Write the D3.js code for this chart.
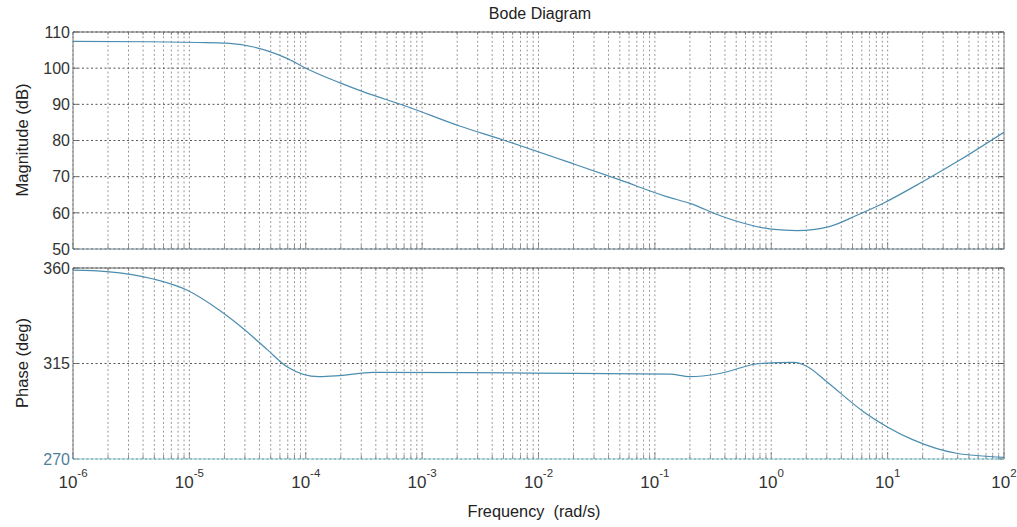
<!DOCTYPE html>
<html>
<head>
<meta charset="utf-8">
<script src="https://cdn.jsdelivr.net/npm/d3@7"></script>
<style>
  html, body { margin: 0; padding: 0; background: #fff; }
  svg { display: block; font-family: Arial, "Liberation Sans", sans-serif; }
</style>
</head>
<body>
<svg id="chart" width="1017" height="527"></svg>
<script>
// Frequency response samples (rad/s)
const magFreq = [1e-6, 4.6e-6, 1.2e-5, 2.1e-5, 4.7e-5, 6.9e-5, 1e-4, 1.95e-4, 3.1e-4, 7.4e-4, 2.1e-3, 4.9e-3, 0.021, 0.05, 0.126, 0.2, 0.38, 1, 1.66, 3.16, 5.5, 9.1, 20, 41.7, 100];
const magDb   = [107.4, 107.3, 107.1, 106.9, 104.8, 102.7, 100, 96, 93.5, 89.4, 84, 80.2, 73.3, 69.1, 64.5, 62.6, 59, 55.5, 55.1, 56.2, 59.4, 62.6, 68.6, 74.6, 82.3];

const phaseFreq = [1e-6, 1.95e-6, 4.9e-6, 9.5e-6, 1.8e-5, 3.0e-5, 4.7e-5, 6.9e-5, 1.3e-4, 1.95e-4, 3.8e-4, 8.5e-3, 0.135, 0.2, 0.36, 0.8, 1.55, 2.05, 3.0, 6.2, 16.6, 39, 100];
const phaseDeg  = [359, 358.3, 354.8, 349.6, 340.2, 330.8, 321.4, 313.5, 308.8, 309.3, 310.8, 310.5, 310, 308.8, 310.3, 315, 315.5, 313.5, 306.4, 292.3, 279, 272.7, 270.8];

// Axis ticks
const freqDecades = [-6, -5, -4, -3, -2, -1, 0, 1, 2];
const magTicks = [50, 60, 70, 80, 90, 100, 110];
const phaseTicks = [270, 315, 360];

const svg = d3.select("#chart");
const left = 73, right = 1004;
const magTop = 32, magBottom = 249;
const phTop = 268, phBottom = 459;

const x = d3.scaleLog().domain([1e-6, 1e2]).range([left, right]);
const yMag = d3.scaleLinear().domain([50, 110]).range([magBottom, magTop]);
const yPh = d3.scaleLinear().domain([270, 360]).range([phBottom, phTop]);

// All decade and sub-decade grid positions
const gridFreqs = [];
for (let d = -6; d < 2; d++) for (let k = 1; k <= 9; k++) gridFreqs.push(k * Math.pow(10, d));
gridFreqs.push(100);

const gridColor = "#5e5e5e";
const lineColor = "#4b8db0";

function panel(y, ticks, top, bottom, bottomColor) {
  const g = svg.append("g");
  // vertical grid
  g.selectAll("line.vg").data(gridFreqs).join("line")
    .attr("x1", d => x(d)).attr("x2", d => x(d))
    .attr("y1", top).attr("y2", bottom)
    .attr("stroke", gridColor).attr("stroke-width", 0.8)
    .attr("stroke-dasharray", "1.8,2.6").attr("opacity", 0.85);
  // horizontal grid
  g.selectAll("line.hg").data(ticks).join("line")
    .attr("x1", left).attr("x2", right)
    .attr("y1", d => y(d)).attr("y2", d => y(d))
    .attr("stroke", "#444").attr("stroke-width", 0.9)
    .attr("stroke-dasharray", "2,2.5");
  // inner ticks on bottom edge
  g.selectAll("line.bt").data(gridFreqs).join("line")
    .attr("x1", d => x(d)).attr("x2", d => x(d))
    .attr("y1", bottom).attr("y2", d => bottom - (Math.abs(Math.log10(d) - Math.round(Math.log10(d))) < 1e-9 ? 7 : 4))
    .attr("stroke", "#777").attr("stroke-width", 0.8);
  // inner ticks on top edge
  g.selectAll("line.tt").data(gridFreqs).join("line")
    .attr("x1", d => x(d)).attr("x2", d => x(d))
    .attr("y1", top).attr("y2", top + 3)
    .attr("stroke", "#777").attr("stroke-width", 0.8);
  // inner ticks left/right
  g.selectAll("line.lt").data(ticks).join("line")
    .attr("x1", left).attr("x2", left + 5)
    .attr("y1", d => y(d)).attr("y2", d => y(d))
    .attr("stroke", "#555").attr("stroke-width", 0.8);
  g.selectAll("line.rt").data(ticks).join("line")
    .attr("x1", right - 6).attr("x2", right)
    .attr("y1", d => y(d)).attr("y2", d => y(d))
    .attr("stroke", "#555").attr("stroke-width", 1);
  // frame
  g.append("line").attr("x1", left).attr("x2", right).attr("y1", top).attr("y2", top)
    .attr("stroke", "#666").attr("stroke-width", 1);
  g.append("line").attr("x1", left).attr("x2", left).attr("y1", top).attr("y2", bottom)
    .attr("stroke", "#777").attr("stroke-width", 1);
  g.append("line").attr("x1", right).attr("x2", right).attr("y1", top).attr("y2", bottom)
    .attr("stroke", "#888").attr("stroke-width", 1);
  g.append("line").attr("x1", left).attr("x2", right).attr("y1", bottom).attr("y2", bottom)
    .attr("stroke", bottomColor).attr("stroke-width", 1.2);
  // y tick labels
  g.selectAll("text.yl").data(ticks).join("text")
    .attr("x", left - 3).attr("y", d => y(d)).attr("dy", "0.36em")
    .attr("text-anchor", "end").attr("font-size", 16)
    .attr("fill", d => (d === 270 ? "#4f7f98" : "#333"))
    .text(d => d);
  return g;
}

panel(yMag, magTicks, magTop, magBottom, "#6f8a96");
panel(yPh, phaseTicks, phTop, phBottom, "#8fd0dc");

svg.append("clipPath").attr("id", "clipMag")
  .append("rect").attr("x", left).attr("y", magTop).attr("width", right - left).attr("height", magBottom - magTop);
svg.append("clipPath").attr("id", "clipPh")
  .append("rect").attr("x", left).attr("y", phTop).attr("width", right - left).attr("height", phBottom - phTop);

const magLine = d3.line().x(d => x(d[0])).y(d => yMag(d[1])).curve(d3.curveMonotoneX);
const phLine = d3.line().x(d => x(d[0])).y(d => yPh(d[1])).curve(d3.curveMonotoneX);

svg.append("path").datum(d3.zip(magFreq, magDb))
  .attr("d", magLine).attr("fill", "none").attr("stroke", lineColor)
  .attr("stroke-width", 1.2).attr("clip-path", "url(#clipMag)");
svg.append("path").datum(d3.zip(phaseFreq, phaseDeg))
  .attr("d", phLine).attr("fill", "none").attr("stroke", lineColor)
  .attr("stroke-width", 1.2).attr("clip-path", "url(#clipPh)");

// x tick labels: 10 with superscript exponent
const xl = svg.append("g").selectAll("text").data(freqDecades).join("text")
  .attr("x", d => x(Math.pow(10, d))).attr("y", 488)
  .attr("text-anchor", "middle").attr("fill", "#333").attr("font-size", 17);
xl.append("tspan").text("10");
xl.append("tspan").attr("font-size", 11.5).attr("dy", -11).text(d => d);

// titles
svg.append("text").attr("x", 540).attr("y", 19).attr("text-anchor", "middle")
  .attr("font-size", 16).attr("fill", "#222").text("Bode Diagram");
svg.append("text").attr("x", 534).attr("y", 517).attr("text-anchor", "middle")
  .attr("font-size", 16.3).attr("fill", "#222").attr("xml:space", "preserve").text("Frequency  (rad/s)");
svg.append("text").attr("transform", "translate(28,140) rotate(-90)").attr("text-anchor", "middle")
  .attr("font-size", 16.5).attr("fill", "#222").text("Magnitude (dB)");
svg.append("text").attr("transform", "translate(28,363) rotate(-90)").attr("text-anchor", "middle")
  .attr("font-size", 16.5).attr("fill", "#222").text("Phase (deg)");
</script>
</body>
</html>
